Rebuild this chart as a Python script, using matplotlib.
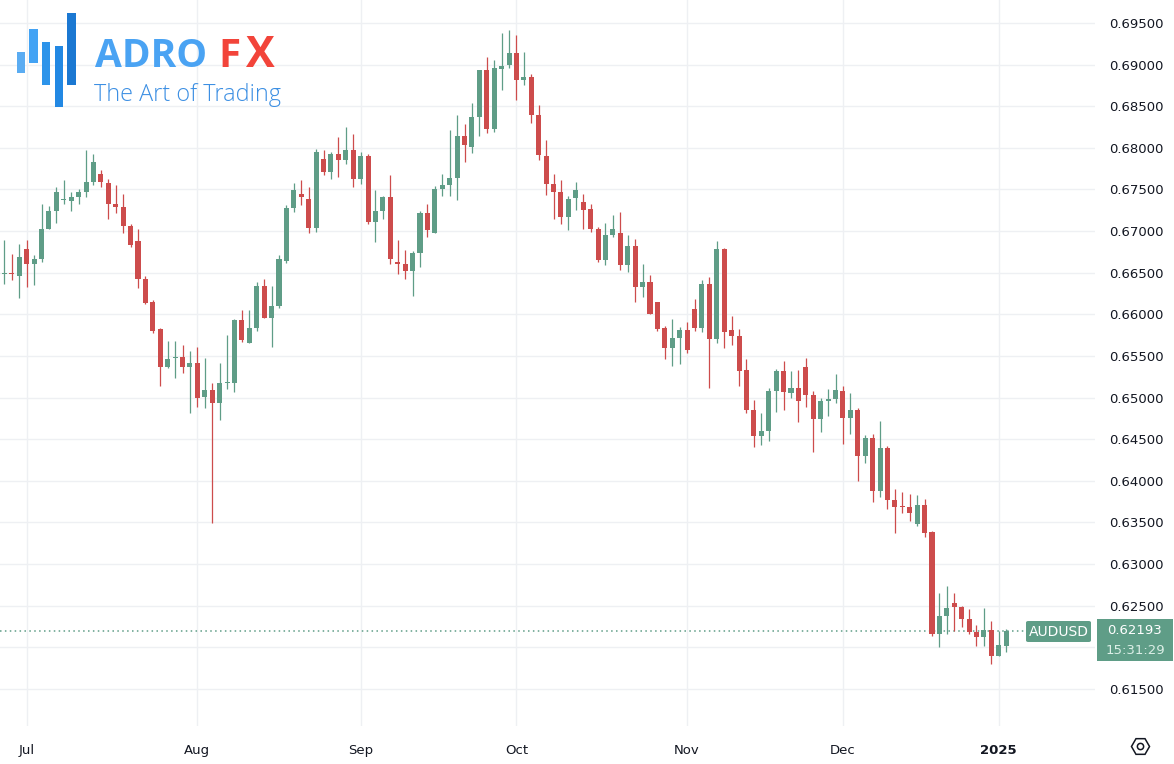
import numpy as np
import matplotlib
matplotlib.use('Agg')
from matplotlib import pyplot as plt
from matplotlib.patches import Rectangle, FancyBboxPatch
from matplotlib.lines import Line2D

# Daily AUDUSD candles, 26 Jun 2024 .. 2 Jan 2025
opens = [0.6648, 0.6649, 0.6646, 0.6679, 0.6660, 0.6667, 0.6702, 0.6724, 0.6737, 0.6736,
         0.6741, 0.6747, 0.6759, 0.6769, 0.6758, 0.6733, 0.6729, 0.6706, 0.6688, 0.6642,
         0.6615, 0.6582, 0.6537, 0.6548, 0.6549, 0.6537, 0.6542, 0.6501, 0.6509, 0.6494,
         0.6517, 0.6517, 0.6593, 0.6565, 0.6583, 0.6634, 0.6596, 0.6610, 0.6664, 0.6728,
         0.6745, 0.6739, 0.6704, 0.6787, 0.6771, 0.6793, 0.6785, 0.6798, 0.6762, 0.6790,
         0.6711, 0.6724, 0.6741, 0.6663, 0.6661, 0.6652, 0.6674, 0.6722, 0.6698, 0.6751,
         0.6755, 0.6764, 0.6814, 0.6801, 0.6837, 0.6893, 0.6823, 0.6895, 0.6900, 0.6914,
         0.6882, 0.6885, 0.6840, 0.6790, 0.6757, 0.6747, 0.6717, 0.6740, 0.6735, 0.6726,
         0.6703, 0.6665, 0.6695, 0.6698, 0.6659, 0.6682, 0.6633, 0.6639, 0.6615, 0.6583,
         0.6560, 0.6571, 0.6581, 0.6607, 0.6584, 0.6637, 0.6570, 0.6679, 0.6581, 0.6574,
         0.6533, 0.6485, 0.6454, 0.6460, 0.6508, 0.6532, 0.6506, 0.6511, 0.6537, 0.6503,
         0.6474, 0.6496, 0.6498, 0.6508, 0.6475, 0.6485, 0.6430, 0.6452, 0.6388, 0.6439,
         0.6377, 0.6370, 0.6368, 0.6348, 0.6371, 0.6338, 0.6216, 0.6238, 0.6253, 0.6249,
         0.6234, 0.6219, 0.6212, 0.6221, 0.6190, 0.6202]
highs = [0.6689, 0.6673, 0.6685, 0.6689, 0.6671, 0.6733, 0.6730, 0.6753, 0.6761, 0.6747,
         0.6751, 0.6798, 0.6793, 0.6773, 0.6763, 0.6755, 0.6744, 0.6709, 0.6702, 0.6646,
         0.6617, 0.6583, 0.6568, 0.6568, 0.6563, 0.6556, 0.6561, 0.6548, 0.6517, 0.6542,
         0.6575, 0.6595, 0.6605, 0.6605, 0.6639, 0.6643, 0.6634, 0.6671, 0.6731, 0.6758,
         0.6761, 0.6753, 0.6799, 0.6797, 0.6795, 0.6813, 0.6825, 0.6817, 0.6795, 0.6793,
         0.6749, 0.6742, 0.6767, 0.6689, 0.6677, 0.6676, 0.6724, 0.6732, 0.6754, 0.6769,
         0.6821, 0.6839, 0.6829, 0.6854, 0.6893, 0.6909, 0.6906, 0.6938, 0.6942, 0.6936,
         0.6915, 0.6889, 0.6852, 0.6810, 0.6769, 0.6761, 0.6742, 0.6759, 0.6745, 0.6732,
         0.6705, 0.6710, 0.6719, 0.6723, 0.6695, 0.6691, 0.6661, 0.6647, 0.6615, 0.6586,
         0.6595, 0.6585, 0.6591, 0.6619, 0.6641, 0.6645, 0.6688, 0.6680, 0.6598, 0.6582,
         0.6546, 0.6497, 0.6481, 0.6511, 0.6534, 0.6544, 0.6532, 0.6533, 0.6548, 0.6508,
         0.6500, 0.6510, 0.6528, 0.6514, 0.6505, 0.6488, 0.6455, 0.6456, 0.6472, 0.6442,
         0.6390, 0.6387, 0.6384, 0.6383, 0.6378, 0.6340, 0.6265, 0.6274, 0.6265, 0.6250,
         0.6246, 0.6227, 0.6247, 0.6232, 0.6220, 0.6222]
lows = [0.6637, 0.6641, 0.6620, 0.6633, 0.6635, 0.6663, 0.6702, 0.6710, 0.6733, 0.6724,
        0.6732, 0.6741, 0.6755, 0.6753, 0.6715, 0.6722, 0.6698, 0.6681, 0.6632, 0.6613,
        0.6578, 0.6514, 0.6535, 0.6524, 0.6530, 0.6481, 0.6489, 0.6488, 0.6349, 0.6473,
        0.6510, 0.6507, 0.6567, 0.6565, 0.6580, 0.6596, 0.6561, 0.6608, 0.6662, 0.6723,
        0.6731, 0.6698, 0.6699, 0.6767, 0.6762, 0.6765, 0.6780, 0.6753, 0.6757, 0.6709,
        0.6687, 0.6714, 0.6661, 0.6649, 0.6642, 0.6622, 0.6657, 0.6693, 0.6698, 0.6742,
        0.6742, 0.6737, 0.6783, 0.6794, 0.6814, 0.6818, 0.6819, 0.6869, 0.6896, 0.6857,
        0.6876, 0.6830, 0.6785, 0.6743, 0.6715, 0.6709, 0.6701, 0.6725, 0.6703, 0.6699,
        0.6663, 0.6659, 0.6693, 0.6653, 0.6651, 0.6615, 0.6621, 0.6600, 0.6580, 0.6546,
        0.6538, 0.6540, 0.6554, 0.6580, 0.6579, 0.6512, 0.6565, 0.6559, 0.6563, 0.6514,
        0.6481, 0.6441, 0.6443, 0.6448, 0.6483, 0.6485, 0.6499, 0.6471, 0.6489, 0.6435,
        0.6459, 0.6478, 0.6493, 0.6444, 0.6456, 0.6400, 0.6422, 0.6374, 0.6381, 0.6366,
        0.6337, 0.6361, 0.6352, 0.6346, 0.6332, 0.6214, 0.6200, 0.6216, 0.6220, 0.6225,
        0.6216, 0.6201, 0.6202, 0.6180, 0.6190, 0.6194]
closes = [0.6649, 0.6648, 0.6669, 0.6661, 0.6667, 0.6703, 0.6724, 0.6747, 0.6738, 0.6741,
          0.6747, 0.6759, 0.6783, 0.6759, 0.6733, 0.6729, 0.6706, 0.6683, 0.6642, 0.6614,
          0.6580, 0.6537, 0.6546, 0.6549, 0.6537, 0.6542, 0.6500, 0.6509, 0.6494, 0.6517,
          0.6518, 0.6593, 0.6569, 0.6583, 0.6634, 0.6596, 0.6610, 0.6667, 0.6728, 0.6749,
          0.6741, 0.6704, 0.6795, 0.6771, 0.6793, 0.6785, 0.6798, 0.6762, 0.6790, 0.6711,
          0.6724, 0.6741, 0.6667, 0.6660, 0.6652, 0.6674, 0.6722, 0.6701, 0.6751, 0.6755,
          0.6764, 0.6814, 0.6803, 0.6837, 0.6893, 0.6823, 0.6896, 0.6898, 0.6914, 0.6882,
          0.6885, 0.6840, 0.6791, 0.6757, 0.6747, 0.6717, 0.6739, 0.6749, 0.6725, 0.6703,
          0.6665, 0.6695, 0.6702, 0.6659, 0.6682, 0.6633, 0.6639, 0.6600, 0.6582, 0.6560,
          0.6571, 0.6581, 0.6557, 0.6583, 0.6637, 0.6570, 0.6679, 0.6579, 0.6574, 0.6532,
          0.6485, 0.6454, 0.6460, 0.6508, 0.6532, 0.6507, 0.6511, 0.6496, 0.6503, 0.6474,
          0.6496, 0.6498, 0.6509, 0.6475, 0.6485, 0.6430, 0.6452, 0.6388, 0.6439, 0.6377,
          0.6369, 0.6369, 0.6361, 0.6371, 0.6337, 0.6216, 0.6238, 0.6247, 0.6248, 0.6234,
          0.6219, 0.6212, 0.6221, 0.6190, 0.6203, 0.62193]

month_labels = ['Jul', 'Aug', 'Sep', 'Oct', 'Nov', 'Dec', '2025']
month_pos = [3, 26, 48, 69, 92, 113, 134]   # candle index of first trading day
price_ticks = [0.615, 0.620, 0.625, 0.630, 0.635, 0.640, 0.645, 0.650, 0.655,
               0.660, 0.665, 0.670, 0.675, 0.680, 0.685, 0.690, 0.695]
symbol = 'AUDUSD'
last_price = '0.62193'
countdown = '15:31:29'

W, H = 1174, 764
UP = '#5f9d87'
DOWN = '#cd4c4c'
GRID = '#eef0f3'

fig = plt.figure(figsize=(W / 100, H / 100), dpi=100)
ax = fig.add_axes([0, 38 / H, 1095 / W, 726 / H])

o = np.array(opens)
hi = np.array(highs)
lo = np.array(lows)
c = np.array(closes)
x = np.arange(len(o))
col = np.where(c >= o, UP, DOWN)

# wicks and bodies
ax.vlines(x, lo, hi, colors=col, linewidth=0.9, zorder=2)
body_h = np.maximum(np.abs(c - o), 0.00013)
ax.bar(x, body_h, bottom=np.minimum(o, c), width=0.68, color=col, linewidth=0, zorder=3)

ax.set_xlim(-0.6, 146.97)
ax.set_ylim(0.61055, 0.69776)

# the 0.62000 label sits under the last-price box, so leave it blank
ax.set_yticks(price_ticks)
ax.set_yticklabels(['' if abs(p - 0.620) < 1e-9 else '%.5f' % p for p in price_ticks])
ax.yaxis.tick_right()
ax.tick_params(axis='y', length=0, pad=10, labelsize=9.5, labelcolor='#131722')

ax.set_xticks(month_pos)
ax.set_xticklabels(month_labels)
ax.tick_params(axis='x', length=0, pad=13, labelsize=9.5, labelcolor='#131722')
ax.get_xticklabels()[-1].set_fontweight('bold')

ax.grid(True, color=GRID, linewidth=1, zorder=0)
ax.set_axisbelow(True)
for s in ax.spines.values():
    s.set_visible(False)

# last price line
ax.axhline(0.62193, xmax=1025 / 1095, color=UP, linestyle=(0, (1, 2.2)), linewidth=1.1, zorder=1)


def fx(px):
    return px / W


def fy(py):
    return 1 - py / H


# symbol tag and price box
fig.patches.append(FancyBboxPatch((fx(1026), fy(642)), fx(65), 21 / H,
                                  boxstyle='round,pad=0,rounding_size=0.002',
                                  transform=fig.transFigure, facecolor=UP, edgecolor='none'))
fig.text(fx(1058.5), fy(631.5), symbol, color='white', fontsize=10, ha='center', va='center')
fig.patches.append(Rectangle((fx(1097), fy(661)), fx(76), 42 / H,
                             transform=fig.transFigure, facecolor=UP, edgecolor='none'))
fig.text(fx(1135), fy(630), last_price, color='white', fontsize=9.5, ha='center', va='center')
fig.text(fx(1135), fy(650.5), countdown, color='#dcefe7', fontsize=9.5, ha='center', va='center')

# settings icon
fig.lines.append(Line2D([fx(1140)], [fy(746)], marker='H', markersize=13, markerfacecolor='none',
                        markeredgecolor='#131722', markeredgewidth=1.1, transform=fig.transFigure))
fig.lines.append(Line2D([fx(1140)], [fy(746)], marker='o', markersize=4.5, markerfacecolor='none',
                        markeredgecolor='#131722', markeredgewidth=1.1, transform=fig.transFigure))

# logo
logo_bars = [(16.7, 51.7, 25, 73.3, '#5aacf2'), (29.3, 29.3, 37.7, 62.7, '#43a3f4'),
             (41.7, 41.7, 50, 85, '#2d94ea'), (55, 46, 63.3, 107.3, '#2288e3'),
             (67.3, 12.7, 75.7, 85, '#1b78d2')]
for x0, y0, x1, y1, cc in logo_bars:
    fig.patches.append(Rectangle((fx(x0), fy(y1)), fx(x1 - x0), (y1 - y0) / H,
                                 transform=fig.transFigure, facecolor=cc, edgecolor='none'))
fig.text(fx(95), fy(66.7), 'ADRO', fontsize=28, color='#4aa3f3', family='Open Sans',
         fontweight='bold', va='baseline')
fig.text(fx(218), fy(66.7), 'F', fontsize=29, color='#f2443a', family='Open Sans',
         fontweight='bold', va='baseline')
fig.text(fx(246), fy(66.7), 'X', fontsize=31, color='#f2443a', family='Open Sans',
         fontweight='bold', va='baseline')
fig.text(fx(94), fy(101), 'The Art of Trading', fontsize=16.8, color='#3c8fe3',
         family='Open Sans', fontweight='light', va='baseline')

fig.savefig('out.png', dpi=100, facecolor='white')
